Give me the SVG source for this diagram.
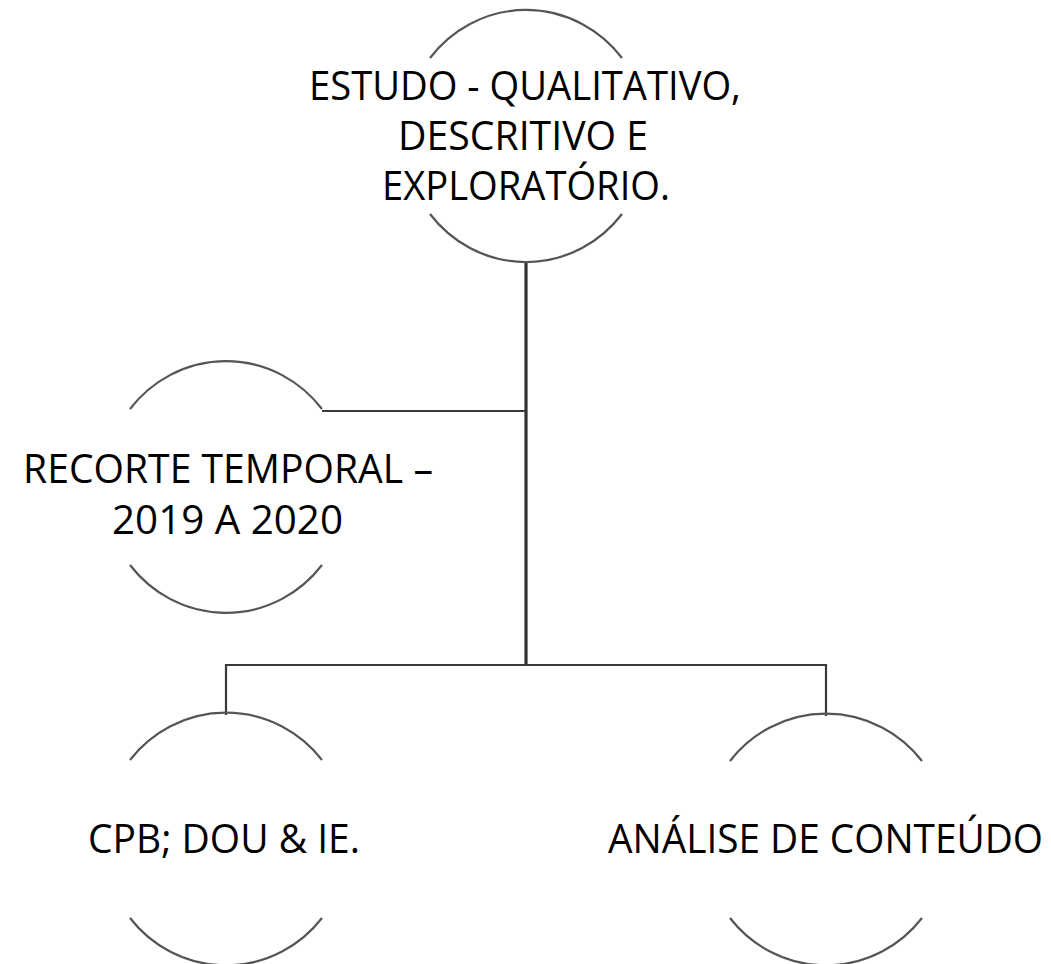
<svg xmlns="http://www.w3.org/2000/svg" width="1051" height="964" viewBox="0 0 1051 964">
<style>
.arc{fill:none;stroke:#555;stroke-width:2.2}
.con{fill:none;stroke:#3a3a3a;stroke-width:2.2}
.trunk{fill:none;stroke:#333;stroke-width:3.2}
.lbl{font-family:"Open Sans","Liberation Sans",sans-serif;font-size:39.5px;fill:#000;text-anchor:middle}
</style>
<rect width="1051" height="964" fill="#fff"/>
<g id="connectors">
<path class="trunk" d="M526,261 V665"/>
<path class="con" d="M322,411 H526"/>
<path class="con" d="M226,715 V665 H826 V716"/>
</g>
<g id="node-estudo">
<path class="arc" d="M430,58 A122,125.5 0 0 1 622,58"/>
<path class="arc" d="M430,214 A122,125.5 0 0 0 622,214"/>
<text class="lbl" x="525" y="100" textLength="432" lengthAdjust="spacingAndGlyphs">ESTUDO - QUALITATIVO,</text>
<text class="lbl" x="523" y="150" textLength="250" lengthAdjust="spacingAndGlyphs">DESCRITIVO E</text>
<text class="lbl" x="526" y="200" textLength="288" lengthAdjust="spacingAndGlyphs">EXPLORATÓRIO.</text>
</g>
<g id="node-recorte">
<path class="arc" d="M130,409 A122,125 0 0 1 322,409"/>
<path class="arc" d="M130,565 A122,125 0 0 0 322,565"/>
<text class="lbl" x="228" y="483" textLength="410" lengthAdjust="spacingAndGlyphs">RECORTE TEMPORAL –</text>
<text class="lbl" x="227.5" y="534" textLength="231" lengthAdjust="spacingAndGlyphs">2019 A 2020</text>
</g>
<g id="node-cpb">
<path class="arc" d="M130,760 A122,123.5 0 0 1 322,760"/>
<path class="arc" d="M130,918 A122,123.5 0 0 0 322,918"/>
<text class="lbl" x="224" y="853" textLength="272" lengthAdjust="spacingAndGlyphs">CPB; DOU &amp; IE.</text>
</g>
<g id="node-analise">
<path class="arc" d="M730,761 A122,123.5 0 0 1 922,761"/>
<path class="arc" d="M730,918 A122,123.5 0 0 0 922,918"/>
<text class="lbl" x="825.5" y="853" textLength="435" lengthAdjust="spacingAndGlyphs">ANÁLISE DE CONTEÚDO</text>
</g>
</svg>
